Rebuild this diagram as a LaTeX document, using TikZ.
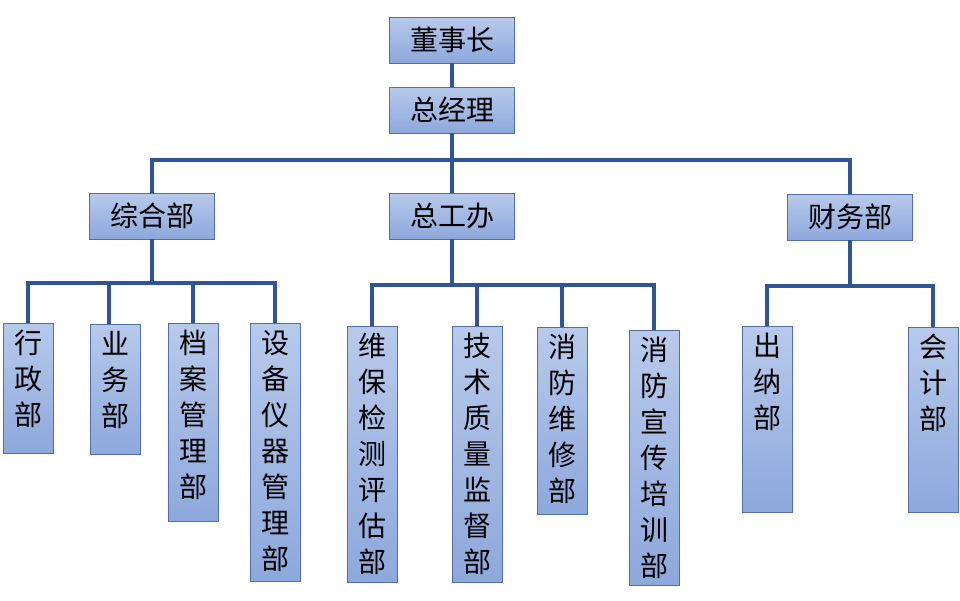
\documentclass[tikz,border=0pt]{standalone}
\usepackage{fontspec}
\setmainfont{Noto Sans CJK SC}
\usetikzlibrary{positioning}

\definecolor{boxtop}{RGB}{184,202,235}
\definecolor{boxbot}{RGB}{141,168,220}
\definecolor{boxline}{RGB}{80,110,168}
\definecolor{wireblue}{RGB}{47,85,151}

% column box with text from the top
\newcommand{\deptcol}[5]{%
  \node[colbox, minimum height=#4-#3] (#1) at (#2,{(#3+#4)/2}) {};
  \node[coltext] (#1-t) at ([yshift=-7pt]#1.north) {#5};
}

\begin{document}
\begin{tikzpicture}[x=1pt, y=-1pt,
    hbox/.style={rectangle, draw=boxline, top color=boxtop, bottom color=boxbot, minimum width=125pt, minimum height=46pt, inner sep=0pt, font=\fontsize{28}{28}\selectfont},
    colbox/.style={rectangle, draw=boxline, top color=boxtop, bottom color=boxbot, minimum width=50pt, inner sep=0pt},
    coltext/.style={anchor=north, align=center, inner sep=0pt, font=\fontsize{28}{36}\selectfont},
    wire/.style={draw=wireblue, line width=3.5pt}
  ]
  \useasboundingbox (0,0) rectangle (960,600);

  % top levels
  \node[hbox] (dsz) at (452,40) {董事长};
  \node[hbox] (zjl) at (452,110) {总经理};

  % departments
  \node[hbox] (zhb) at (152,216) {综合部};
  \node[hbox] (zgb) at (452,216) {总工办};
  \node[hbox] (cwb) at (850,217) {财务部};

  % sections under 综合部
  \deptcol{xzb}{28}{323}{453}{行\\政\\部}
  \deptcol{ywb}{115}{324}{454}{业\\务\\部}
  \deptcol{dab}{193}{323}{521}{档\\案\\管\\理\\部}
  \deptcol{sbb}{275}{323}{581}{设\\备\\仪\\器\\管\\理\\部}

  % sections under 总工办
  \deptcol{wbb}{372}{326}{582}{维\\保\\检\\测\\评\\估\\部}
  \deptcol{jsb}{477}{326}{582}{技\\术\\质\\量\\监\\督\\部}
  \deptcol{xfw}{562}{327}{514}{消\\防\\维\\修\\部}
  \deptcol{xfx}{654}{330}{585}{消\\防\\宣\\传\\培\\训\\部}

  % sections under 财务部
  \deptcol{cnb}{767}{326}{512}{出\\纳\\部}
  \deptcol{kjb}{933}{327}{512}{会\\计\\部}

  % bus points
  \coordinate (topbus) at (452,160);
  \coordinate (zhbus) at (152,283);
  \coordinate (zgbus) at (452,285);
  \coordinate (cwbus) at (850,286);

  % connectors
  \draw[wire] (dsz) -- (zjl);
  \draw[wire] (zjl) -- (topbus);
  \draw[wire] (zhb.north) |- (topbus) -| (cwb.north);
  \draw[wire] (topbus) -- (zgb.north);

  \draw[wire] (zhb.south) -- (zhbus);
  \draw[wire] (xzb.north) |- (zhbus) -| (sbb.north);
  \draw[wire] ([xshift=-6pt]ywb.north) -- ([xshift=-6pt]ywb.north |- zhbus);
  \draw[wire] (dab.north) -- (dab.north |- zhbus);

  \draw[wire] (zgb.south) -- (zgbus);
  \draw[wire] (wbb.north) |- (zgbus) -| (xfx.north);
  \draw[wire] (jsb.north) -- (jsb.north |- zgbus);
  \draw[wire] (xfw.north) -- (xfw.north |- zgbus);

  \draw[wire] (cwb.south) -- (cwbus);
  \draw[wire] (cnb.north) |- (cwbus) -| (kjb.north);
\end{tikzpicture}
\end{document}
